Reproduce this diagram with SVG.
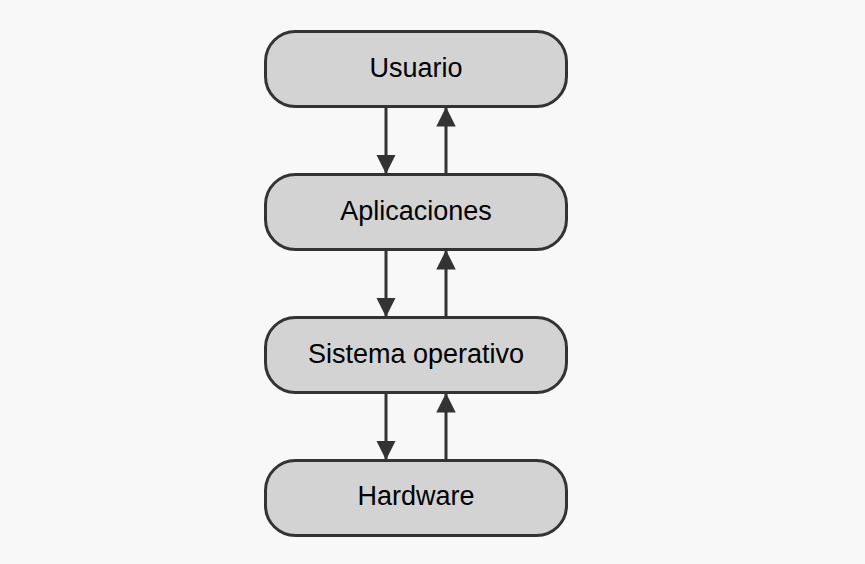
<svg xmlns="http://www.w3.org/2000/svg" width="865" height="564" viewBox="0 0 865 564">
<defs>
<style>
.box{fill:#d3d3d3;stroke:#333;stroke-width:3}
.lbl{font-family:"Liberation Sans",Arial,sans-serif;font-size:27px;fill:#000;text-anchor:middle;dominant-baseline:central}
.edge{stroke:#333;stroke-width:3;fill:none}
</style>
<marker id="ah" viewBox="0 0 10 10" refX="10" refY="5" markerWidth="6.5" markerHeight="6.5" markerUnits="strokeWidth" orient="auto">
<path d="M0,0 L10,5 L0,10 z" fill="#333"/>
</marker>
</defs>
<rect width="865" height="564" fill="#f8f8f8"/>
<g id="edges">
<line class="edge" x1="386" y1="107" x2="386" y2="174" marker-end="url(#ah)"/>
<line class="edge" x1="446" y1="174" x2="446" y2="107" marker-end="url(#ah)"/>
<line class="edge" x1="386" y1="250" x2="386" y2="317" marker-end="url(#ah)"/>
<line class="edge" x1="446" y1="317" x2="446" y2="250" marker-end="url(#ah)"/>
<line class="edge" x1="386" y1="393" x2="386" y2="460" marker-end="url(#ah)"/>
<line class="edge" x1="446" y1="460" x2="446" y2="393" marker-end="url(#ah)"/>
</g>
<g id="usuario"><rect class="box" x="265.5" y="31.5" width="301" height="75" rx="30"/><text class="lbl" x="416" y="68">Usuario</text></g>
<g id="aplicaciones"><rect class="box" x="265.5" y="174.5" width="301" height="75" rx="30"/><text class="lbl" x="416" y="211">Aplicaciones</text></g>
<g id="so"><rect class="box" x="265.5" y="317.5" width="301" height="75" rx="30"/><text class="lbl" x="416" y="354">Sistema operativo</text></g>
<g id="hardware"><rect class="box" x="265.5" y="460.5" width="301" height="75" rx="30"/><text class="lbl" x="416" y="496">Hardware</text></g>
</svg>
